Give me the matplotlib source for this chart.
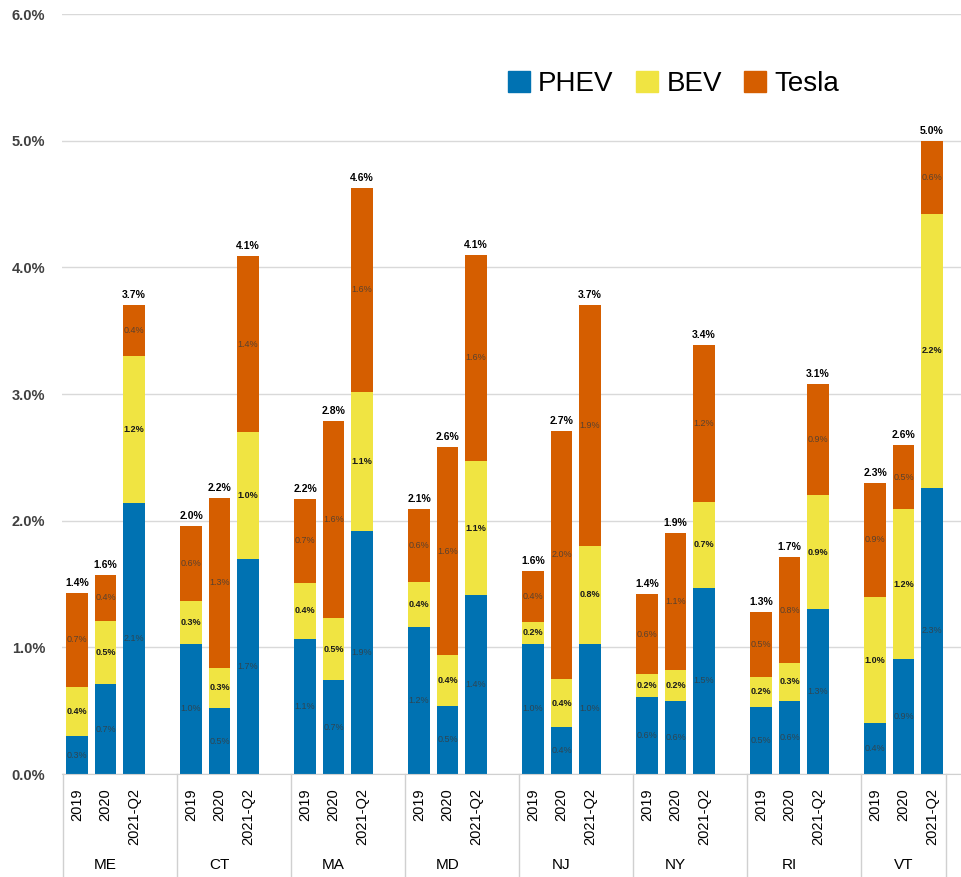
#!/usr/bin/env python3

import matplotlib
matplotlib.use("Agg")
import matplotlib.pyplot as plt
import matplotlib.transforms as mtransforms
from matplotlib.patches import Patch

plt.rcParams['font.family'] = ['Liberation Sans', 'DejaVu Sans']

# share of new registrations, percent
states = ["ME", "CT", "MA", "MD", "NJ", "NY", "RI", "VT"]
periods = ["2019", "2020", "2021-Q2"]
phev = [0.30, 0.71, 2.14, 1.03, 0.52, 1.70, 1.07, 0.74, 1.92, 1.16, 0.54, 1.41,
        1.03, 0.37, 1.03, 0.61, 0.58, 1.47, 0.53, 0.58, 1.30, 0.40, 0.91, 2.26]
bev = [0.39, 0.50, 1.16, 0.34, 0.32, 1.00, 0.44, 0.49, 1.10, 0.36, 0.40, 1.06,
       0.17, 0.38, 0.77, 0.18, 0.24, 0.68, 0.24, 0.30, 0.90, 1.00, 1.18, 2.16]
tesla = [0.74, 0.36, 0.40, 0.59, 1.34, 1.39, 0.66, 1.56, 1.61, 0.57, 1.64, 1.63,
         0.40, 1.96, 1.90, 0.63, 1.08, 1.24, 0.51, 0.83, 0.88, 0.90, 0.51, 0.58]
yticks = [0, 1, 2, 3, 4, 5, 6]

colors = {"PHEV": "#0072B2", "BEV": "#F0E442", "Tesla": "#D55E00"}

fig = plt.figure(figsize=(9.61, 8.77), dpi=100)
ax = fig.add_axes([0.0645, 0.1174, 0.935, 0.8666])

pos = []
for g in range(len(states)):
    for j in range(len(periods)):
        pos.append(g * 4 + j)

width = 0.75
bottom2 = [a + b for a, b in zip(phev, bev)]
totals = [a + b + c for a, b, c in zip(phev, bev, tesla)]

ax.bar(pos, phev, width, color=colors["PHEV"], zorder=2)
ax.bar(pos, bev, width, bottom=phev, color=colors["BEV"], zorder=2)
ax.bar(pos, tesla, width, bottom=bottom2, color=colors["Tesla"], zorder=2)

for x, p, b, t, tot in zip(pos, phev, bev, tesla, totals):
    ax.text(x, p / 2, f"{p:.1f}%", ha="center", va="center", fontsize=6.5,
            color="#3a3a3a", alpha=0.8, zorder=3)
    ax.text(x, p + b / 2, f"{b:.1f}%", ha="center", va="center", fontsize=6.5,
            color="#1a1a1a", fontweight="bold", zorder=3)
    ax.text(x, p + b + t / 2, f"{t:.1f}%", ha="center", va="center", fontsize=6.5,
            color="#3a3a3a", alpha=0.8, zorder=3)
    ax.text(x, tot + 0.04, f"{tot:.1f}%", ha="center", va="bottom", fontsize=7.5,
            color="black", fontweight="bold", zorder=3)

ax.set_xlim(-0.53, 31.0)
ax.set_ylim(0, 6)
ax.set_yticks(yticks)
ax.set_yticklabels([f"{v:.1f}%" for v in yticks], fontsize=10.5,
                   fontweight="bold", color="#404040")
ax.grid(axis="y", color="#d9d9d9", linewidth=1, zorder=0)
ax.tick_params(axis="both", length=0)
ax.tick_params(axis="y", pad=12)

ax.set_xticks(pos)
ax.set_xticklabels(periods * len(states), rotation=90, fontsize=10.5, va="top")
ax.tick_params(axis="x", pad=10)

for side in ["left", "right", "top"]:
    ax.spines[side].set_visible(False)
ax.spines["bottom"].set_color("#d0d0d0")

trans = mtransforms.blended_transform_factory(ax.transData, ax.transAxes)
seps = [-0.5] + [g * 4 + 3.5 for g in range(len(states) - 1)] + [30.5]
for s in seps:
    ax.plot([s, s], [0, -0.14], transform=trans, color="#d0d0d0",
            linewidth=1, clip_on=False)
for g, st in enumerate(states):
    ax.text(g * 4 + 1, -0.12, st, transform=trans, ha="center", va="center",
            fontsize=11)

handles = [Patch(color=colors[k]) for k in colors]
ax.legend(handles, list(colors), loc="upper right", bbox_to_anchor=(0.893, 0.958),
          ncol=3, frameon=False, fontsize=20, handlelength=0.8, handleheight=0.8,
          handletextpad=0.3, columnspacing=0.8)

fig.savefig("out.png", dpi=100)
